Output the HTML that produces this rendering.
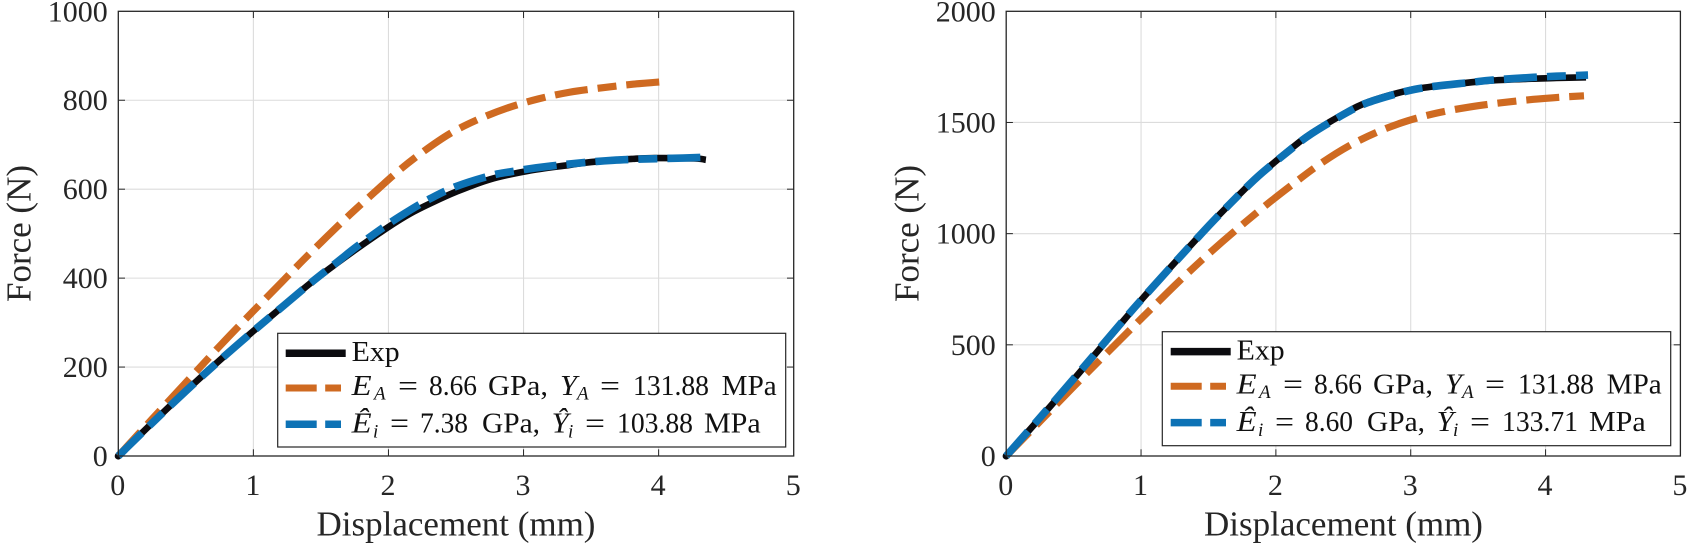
<!DOCTYPE html>
<html lang="en">
<head>
<meta charset="utf-8">
<title>Force vs displacement comparison</title>
<style>
  html, body { margin: 0; padding: 0; background: #fff; }
  body { width: 1688px; height: 544px; overflow: hidden; }
  svg { display: block; }
  text { font-family: "Liberation Serif", serif; }
  .tick { font-size: 30px; fill: #262626; }
  .axis-title { font-size: 35px; fill: #262626; text-anchor: middle; }
  .lg { font-size: 28px; fill: #111; }
  .lg-e { font-size: 31px; fill: #111; }
  .lg-i { font-size: 28px; fill: #111; font-style: italic; }
  .lg-s { font-size: 19px; fill: #111; font-style: italic; }
</style>
</head>
<body>
<svg id="fig" width="1688" height="544" viewBox="0 0 1688 544" xmlns="http://www.w3.org/2000/svg">
  <rect width="1688" height="544" fill="#fff"/>

  <g id="left-chart">
    <g id="left-grid"></g>
    <g id="left-series"></g>
    <g id="left-axes"></g>
    <text class="axis-title" x="456" y="535.5">Displacement (mm)</text>
    <text class="axis-title" transform="translate(30.7 233.5) rotate(-90)">Force (N)</text>
    <g>
      <rect x="277.7" y="333.3" width="508" height="113.7" fill="#fff" stroke="#262626" stroke-width="1.2"/>
      <line x1="285.7" x2="345.7" y1="353.3" y2="353.3" stroke="#0b0b0f" stroke-width="7.5"/>
      <line x1="285.7" x2="341" y1="388" y2="388" stroke="#cf6a21" stroke-width="7" stroke-dasharray="31 8.5 16 8.5"/>
      <line x1="285.7" x2="341" y1="424.3" y2="424.3" stroke="#0d72b5" stroke-width="7.5" stroke-dasharray="31 8.5 16 8.5"/>
      <g>
        <text class="lg" x="351.7" y="361" textLength="48" lengthAdjust="spacingAndGlyphs">Exp</text>
      </g>
      <g>
        <text class="lg-i" x="351.7" y="395" textLength="20" lengthAdjust="spacingAndGlyphs">E</text>
        <text class="lg-s" x="374" y="399.5">A</text>
        <text class="lg-e" x="398" y="396" textLength="20" lengthAdjust="spacingAndGlyphs">=</text>
        <text class="lg" x="429" y="395" textLength="48" lengthAdjust="spacingAndGlyphs">8.66</text>
        <text class="lg" x="488" y="395" textLength="60" lengthAdjust="spacingAndGlyphs">GPa,</text>
        <text class="lg-i" x="560" y="395" textLength="17" lengthAdjust="spacingAndGlyphs">Y</text>
        <text class="lg-s" x="577" y="399.5">A</text>
        <text class="lg-e" x="600" y="396" textLength="20" lengthAdjust="spacingAndGlyphs">=</text>
        <text class="lg" x="633" y="395" textLength="76" lengthAdjust="spacingAndGlyphs">131.88</text>
        <text class="lg" x="721.7" y="395" textLength="55" lengthAdjust="spacingAndGlyphs">MPa</text>
      </g>
      <g>
        <text class="lg-i" x="351.7" y="432.7" textLength="20" lengthAdjust="spacingAndGlyphs">Ê</text>
        <text class="lg-s" x="373" y="437.5">i</text>
        <text class="lg-e" x="390" y="433.7" textLength="19" lengthAdjust="spacingAndGlyphs">=</text>
        <text class="lg" x="420" y="432.7" textLength="48" lengthAdjust="spacingAndGlyphs">7.38</text>
        <text class="lg" x="482" y="432.7" textLength="58" lengthAdjust="spacingAndGlyphs">GPa,</text>
        <text class="lg-i" x="551.7" y="432.7" textLength="17" lengthAdjust="spacingAndGlyphs">Ŷ</text>
        <text class="lg-s" x="568" y="437.5">i</text>
        <text class="lg-e" x="585" y="433.7" textLength="20" lengthAdjust="spacingAndGlyphs">=</text>
        <text class="lg" x="617" y="432.7" textLength="76" lengthAdjust="spacingAndGlyphs">103.88</text>
        <text class="lg" x="704" y="432.7" textLength="56.7" lengthAdjust="spacingAndGlyphs">MPa</text>
      </g>
    </g>
  </g>

  <g id="right-chart">
    <g id="right-grid"></g>
    <g id="right-series"></g>
    <g id="right-axes"></g>
    <text class="axis-title" x="1343.5" y="535.5">Displacement (mm)</text>
    <text class="axis-title" transform="translate(918.3 233.5) rotate(-90)">Force (N)</text>
    <g>
      <rect x="1162.3" y="331.7" width="508.4" height="114" fill="#fff" stroke="#262626" stroke-width="1.2"/>
      <line x1="1170.7" x2="1230.7" y1="351.6" y2="351.6" stroke="#0b0b0f" stroke-width="7.5"/>
      <line x1="1170.7" x2="1226" y1="386.3" y2="386.3" stroke="#cf6a21" stroke-width="7" stroke-dasharray="31 8.5 16 8.5"/>
      <line x1="1170.7" x2="1226" y1="422.6" y2="422.6" stroke="#0d72b5" stroke-width="7.5" stroke-dasharray="31 8.5 16 8.5"/>
      <g transform="translate(885 -1.7)">
        <g>
          <text class="lg" x="351.7" y="361" textLength="48" lengthAdjust="spacingAndGlyphs">Exp</text>
        </g>
        <g>
          <text class="lg-i" x="351.7" y="395" textLength="20" lengthAdjust="spacingAndGlyphs">E</text>
          <text class="lg-s" x="374" y="399.5">A</text>
          <text class="lg-e" x="398" y="396" textLength="20" lengthAdjust="spacingAndGlyphs">=</text>
          <text class="lg" x="429" y="395" textLength="48" lengthAdjust="spacingAndGlyphs">8.66</text>
          <text class="lg" x="488" y="395" textLength="60" lengthAdjust="spacingAndGlyphs">GPa,</text>
          <text class="lg-i" x="560" y="395" textLength="17" lengthAdjust="spacingAndGlyphs">Y</text>
          <text class="lg-s" x="577" y="399.5">A</text>
          <text class="lg-e" x="600" y="396" textLength="20" lengthAdjust="spacingAndGlyphs">=</text>
          <text class="lg" x="633" y="395" textLength="76" lengthAdjust="spacingAndGlyphs">131.88</text>
          <text class="lg" x="721.7" y="395" textLength="55" lengthAdjust="spacingAndGlyphs">MPa</text>
        </g>
        <g>
          <text class="lg-i" x="351.7" y="432.7" textLength="20" lengthAdjust="spacingAndGlyphs">Ê</text>
          <text class="lg-s" x="373" y="437.5">i</text>
          <text class="lg-e" x="390" y="433.7" textLength="19" lengthAdjust="spacingAndGlyphs">=</text>
          <text class="lg" x="420" y="432.7" textLength="48" lengthAdjust="spacingAndGlyphs">8.60</text>
          <text class="lg" x="482" y="432.7" textLength="58" lengthAdjust="spacingAndGlyphs">GPa,</text>
          <text class="lg-i" x="551.7" y="432.7" textLength="17" lengthAdjust="spacingAndGlyphs">Ŷ</text>
          <text class="lg-s" x="568" y="437.5">i</text>
          <text class="lg-e" x="585" y="433.7" textLength="20" lengthAdjust="spacingAndGlyphs">=</text>
          <text class="lg" x="617" y="432.7" textLength="76" lengthAdjust="spacingAndGlyphs">133.71</text>
          <text class="lg" x="704" y="432.7" textLength="56.7" lengthAdjust="spacingAndGlyphs">MPa</text>
        </g>
      </g>
    </g>
  </g>
</svg>

<script>
// Tick labels
const xTickValues = [0, 1, 2, 3, 4, 5];
const leftYTickValues = [0, 200, 400, 600, 800, 1000];
const rightYTickValues = [0, 500, 1000, 1500, 2000];

// Left chart data: displacement (mm), force (N)
const leftExpX = [0, 0.25, 0.5, 0.75, 1, 1.22, 1.42, 1.62, 1.77, 2, 2.16, 2.31, 2.5, 2.75, 3.03, 3.33, 3.5, 3.8, 3.97, 4.27, 4.35];
const leftExpY = [0, 74, 146, 215, 281, 337, 388, 434, 467, 515, 545, 568, 594, 622, 641, 654, 661, 668, 670, 669, 666];
const leftAnalyticalX = [0, 0.25, 0.5, 0.75, 1, 1.21, 1.37, 1.54, 1.715, 1.9, 2.07, 2.26, 2.455, 2.65, 2.875, 3.11, 3.34, 3.58, 3.81, 4.05];
const leftAnalyticalY = [0, 83, 165, 247, 326, 391, 441, 492, 543, 594, 640, 685, 725, 755, 782, 803, 818, 828, 836, 842];
const leftIdentifiedX = [0, 0.25, 0.5, 0.75, 1, 1.22, 1.42, 1.62, 1.77, 2, 2.16, 2.31, 2.5, 2.75, 2.9, 3.2, 3.66, 4.18, 4.37];
const leftIdentifiedY = [0, 74, 146, 215, 281, 337, 388, 436, 472, 522, 553, 579, 606, 630, 639, 652, 665, 670, 672];

// Right chart data: displacement (mm), force (N)
const rightExpX = [0, 0.25, 0.5, 0.869, 1.016, 1.228, 1.425, 1.55, 1.76, 1.895, 2.118, 2.266, 2.513, 2.685, 2.965, 3.144, 3.44, 3.61, 3.91, 4.08, 4.3];
const rightExpY = [0, 170, 344, 608, 712, 855, 985, 1066, 1195, 1272, 1385, 1452, 1542, 1592, 1642, 1660, 1680, 1689, 1697, 1700, 1703];
const rightAnalyticalX = [0, 0.25, 0.5, 0.75, 0.931, 1.08, 1.252, 1.425, 1.6, 1.77, 1.957, 2.142, 2.327, 2.537, 2.76, 2.98, 3.2, 3.44, 3.675, 3.91, 4.145, 4.285];
const rightAnalyticalY = [0, 155, 312, 465, 575, 665, 768, 867, 962, 1050, 1143, 1230, 1313, 1393, 1459, 1508, 1543, 1570, 1589, 1604, 1615, 1620];
const rightIdentifiedX = [0, 0.25, 0.5, 0.869, 1.016, 1.228, 1.425, 1.55, 1.76, 1.895, 2.118, 2.266, 2.513, 2.685, 2.965, 3.144, 3.44, 3.61, 3.91, 4.08, 4.315];
const rightIdentifiedY = [0, 172, 347, 610, 712, 855, 985, 1066, 1195, 1272, 1383, 1450, 1540, 1590, 1640, 1660, 1680, 1691, 1703, 1708, 1713];

const SVG_NS = 'http://www.w3.org/2000/svg';
const DASHES = '33 10 19 10';

function svgEl(parent, tag, props) {
  const el = document.createElementNS(SVG_NS, tag);
  for (const key in props) el.setAttribute(key, props[key]);
  parent.appendChild(el);
  return el;
}

function linearScale(domainMax, start, end) {
  return function (v) { return start + (v / domainMax) * (end - start); };
}

function smoothPath(xs, ys, sx, sy) {
  const px = xs.map(sx);
  const py = ys.map(sy);
  let d = 'M' + px[0].toFixed(2) + ' ' + py[0].toFixed(2);
  for (let i = 0; i < px.length - 1; i++) {
    const a = Math.max(i - 1, 0);
    const b = Math.min(i + 2, px.length - 1);
    const c1x = px[i] + (px[i + 1] - px[a]) / 6;
    const c1y = py[i] + (py[i + 1] - py[a]) / 6;
    const c2x = px[i + 1] - (px[b] - px[i]) / 6;
    const c2y = py[i + 1] - (py[b] - py[i]) / 6;
    d += 'C' + c1x.toFixed(2) + ' ' + c1y.toFixed(2) + ' ' + c2x.toFixed(2) + ' ' + c2y.toFixed(2) + ' ' + px[i + 1].toFixed(2) + ' ' + py[i + 1].toFixed(2);
  }
  return d;
}

function drawFrame(side, box, sx, sy, xMax, yMax, yTicks) {
  const grid = document.getElementById(side + '-grid');
  const axes = document.getElementById(side + '-axes');
  const tickLen = 6.7;
  const ink = '#262626';

  xTickValues.forEach(function (t) {
    const x = sx(t);
    if (t !== 0 && t !== xMax) {
      const g = svgEl(grid, 'line', { x1: x, x2: x, y1: box.top, y2: box.bottom, stroke: '#dcdcdc', 'stroke-width': 1.1 });
      
      
      const t1 = svgEl(axes, 'line', { x1: x, x2: x, y1: box.bottom, y2: box.bottom - tickLen, stroke: ink, 'stroke-width': 1 });
      
      
      const t2 = svgEl(axes, 'line', { x1: x, x2: x, y1: box.top, y2: box.top + tickLen, stroke: ink, 'stroke-width': 1 });
      
      
    }
    const label = svgEl(axes, 'text', { class: 'tick', x: x - 0.5, y: 495, 'text-anchor': 'middle' });
    label.textContent = String(t);
    
    
  });

  yTicks.forEach(function (t) {
    const y = sy(t);
    if (t !== 0 && t !== yMax) {
      const g = svgEl(grid, 'line', { x1: box.left, x2: box.right, y1: y, y2: y, stroke: '#dcdcdc', 'stroke-width': 1.1 });
      
      
      const t1 = svgEl(axes, 'line', { x1: box.left, x2: box.left + tickLen, y1: y, y2: y, stroke: ink, 'stroke-width': 1 });
      
      
      const t2 = svgEl(axes, 'line', { x1: box.right, x2: box.right - tickLen, y1: y, y2: y, stroke: ink, 'stroke-width': 1 });
      
      
    }
    const label = svgEl(axes, 'text', { class: 'tick', x: box.left - 10.5, y: y + 10, 'text-anchor': 'end' });
    label.textContent = String(t);
    
    
  });

  const frame = svgEl(axes, 'rect', { x: box.left, y: box.top, width: box.right - box.left, height: box.bottom - box.top, fill: 'none', stroke: ink, 'stroke-width': 1.3 });
  
  
}

function drawChart(side, box, yMax, yTicks, expX, expY, anaX, anaY, idX, idY) {
  const sx = linearScale(5, box.left, box.right);
  const sy = linearScale(yMax, box.bottom, box.top);
  drawFrame(side, box, sx, sy, 5, yMax, yTicks);
  const layer = document.getElementById(side + '-series');

  const start = svgEl(layer, 'circle', { cx: sx(0), cy: sy(0), r: 3.6, fill: '#0b0b0f' });
  
  

  const exp = svgEl(layer, 'path', { d: smoothPath(expX, expY, sx, sy), fill: 'none', stroke: '#0b0b0f', 'stroke-width': 6.6, 'stroke-linejoin': 'round' });
  
  

  const ana = svgEl(layer, 'path', { d: smoothPath(anaX, anaY, sx, sy), fill: 'none', stroke: '#cf6a21', 'stroke-width': 7.2, 'stroke-dasharray': DASHES, 'stroke-linejoin': 'round' });
  
  

  const ident = svgEl(layer, 'path', { d: smoothPath(idX, idY, sx, sy), fill: 'none', stroke: '#0d72b5', 'stroke-width': 7.6, 'stroke-dasharray': DASHES, 'stroke-linejoin': 'round' });
  
  
}

drawChart('left', { left: 118.3, right: 793.7, top: 11.3, bottom: 456 }, 1000, leftYTickValues,
  leftExpX, leftExpY, leftAnalyticalX, leftAnalyticalY, leftIdentifiedX, leftIdentifiedY);
drawChart('right', { left: 1006.2, right: 1680.4, top: 11.3, bottom: 456 }, 2000, rightYTickValues,
  rightExpX, rightExpY, rightAnalyticalX, rightAnalyticalY, rightIdentifiedX, rightIdentifiedY);
</script>
</body>
</html>
